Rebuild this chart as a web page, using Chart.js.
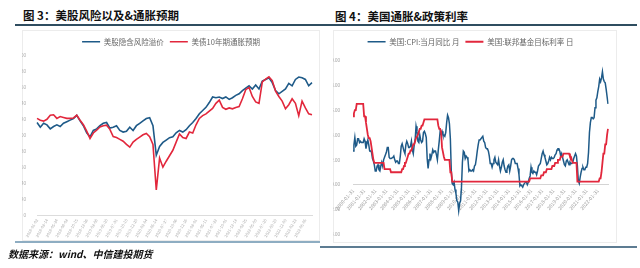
<!DOCTYPE html>
<html>
<head>
<meta charset="utf-8">
<script src="https://cdn.jsdelivr.net/npm/chart.js@4.4.0/dist/chart.umd.min.js"></script>
<style>
  body { margin:0; width:640px; height:268px; background:#fff; position:relative; overflow:hidden;
         font-family:"Noto Sans CJK SC", sans-serif; }
  .title { position:absolute; top:7px; font-size:11.5px; line-height:16px; font-weight:bold; color:#111; white-space:nowrap; }
  .rule { position:absolute; height:2px; background:#2f4d60; }
  .foot { position:absolute; height:1.5px; }
  .box { position:absolute; border:1px solid #ececec; box-sizing:border-box; }
  canvas { position:absolute; }
  .source { position:absolute; left:8px; top:247px; font-size:10px; line-height:13px; font-weight:bold; font-style:italic; color:#111; }
</style>
</head>
<body>
<div class="title" style="left:23px">图 3：美股风险以及&amp;通胀预期</div>
<div class="title" style="left:335px;top:8px">图 4：美国通胀&amp;政策利率</div>
<div class="rule" style="left:15px;top:24px;width:622px"></div>
<div class="box" style="left:22px;top:30px;width:298px;height:211px"></div>
<div class="box" style="left:333px;top:30px;width:284px;height:213px"></div>
<canvas id="left" width="298" height="212" style="left:22px;top:30px"></canvas>
<canvas id="right" width="284" height="212" style="left:333px;top:30px"></canvas>
<div class="foot" style="left:15px;top:241px;width:305px;background:#8eadc2"></div>
<div class="foot" style="left:320px;top:246px;width:317px;background:#5d7c92"></div>
<div class="source">数据来源：wind、中信建投期货</div>
<script>
var BLUE = '#1e5a88'
var RED = '#e2273c'

// 图3 美股隐含风险溢价 (左轴) / 美债10年期通胀预期 (右轴)
var stockERP = [116,110,115,113,108,111,113,111,115,117,
  119,121,125,118,112,103,98,106,108,112,
  115,116,109,110,112,106,104,105,110,106,
  112,115,118,121,122,112,75,86,91,94,
  97,98,103,106,104,107,112,116,121,127,
  131,135,141,148,147,148,146,148,145,147,
  150,152,156,159,162,158,163,158,168,170,
  172,166,156,152,155,158,165,162,170,173,
  172,170,162,166]
var breakeven = [2.12,2.08,2.06,2.10,2.19,2.20,2.12,2.16,2.14,2.12,
  2.12,2.13,2.19,2.08,1.98,1.84,1.68,1.80,1.86,1.93,
  1.96,1.97,1.88,1.72,1.70,1.66,1.62,1.55,1.49,1.60,
  1.66,1.71,1.76,1.79,1.72,1.55,0.55,1.25,1.05,1.18,
  1.30,1.42,1.60,1.78,1.70,1.68,1.82,1.80,1.98,2.12,
  2.18,2.22,2.28,2.34,2.45,2.52,2.36,2.32,2.35,2.33,
  2.36,2.38,2.55,2.75,2.80,2.60,2.48,2.45,2.92,2.98,
  3.03,2.95,2.72,2.60,2.50,2.33,2.42,2.55,2.45,2.18,
  2.50,2.35,2.22,2.20]
var stockTickLabels = ['2018-01-02','2018-03-14','2018-05-24','2018-08-03','2018-10-15','2018-12-26',
  '2019-03-08','2019-05-20','2019-07-31','2019-10-10','2019-12-20','2020-03-04','2020-05-14',
  '2020-07-27','2020-10-06','2020-12-16','2021-03-01','2021-05-11','2021-07-22','2021-10-01',
  '2021-12-13','2022-02-25','2022-05-09','2022-07-20','2022-09-29','2022-12-09','2023-02-23','2023-05-05']

// 图4 美国CPI当月同比 (月) / 联邦基金目标利率 (日), 2000-01 ~ 2022-12
var cpiYoY = [
  2.7,3.2,3.8,3.1,3.2,3.7,3.7,3.4,3.5,3.4,3.4,3.4,
  3.7,3.5,2.9,3.3,3.6,3.2,2.7,2.7,2.6,2.1,1.9,1.6,
  1.1,1.1,1.5,1.6,1.2,1.1,1.5,1.8,1.5,2.0,2.2,2.4,
  2.6,3.0,3.0,2.2,2.1,2.1,2.1,2.2,2.3,2.0,1.8,1.9,
  1.9,1.7,1.7,2.3,3.1,3.3,3.0,2.7,2.5,3.2,3.5,3.3,
  3.0,3.0,3.1,3.5,2.8,2.5,3.2,3.6,4.7,4.3,3.5,3.4,
  4.0,3.6,3.4,3.5,4.2,4.3,4.1,3.8,2.1,1.3,2.0,2.5,
  2.1,2.4,2.8,2.6,2.7,2.7,2.4,2.0,2.8,3.5,4.3,4.1,
  4.3,4.0,4.0,3.9,4.2,5.0,5.6,5.4,4.9,3.7,1.1,0.1,
  0.0,0.2,-0.4,-0.7,-1.3,-1.4,-2.1,-1.5,-1.3,-0.2,1.8,2.7,
  2.6,2.1,2.3,2.2,2.0,1.1,1.2,1.1,1.1,1.2,1.1,1.5,
  1.6,2.1,2.7,3.2,3.6,3.6,3.6,3.8,3.9,3.5,3.4,3.0,
  2.9,2.9,2.7,2.3,1.7,1.7,1.4,1.7,2.0,2.2,1.8,1.7,
  1.6,2.0,1.5,1.1,1.4,1.8,2.0,1.5,1.2,1.0,1.2,1.5,
  1.6,1.1,1.5,2.0,2.1,2.1,2.0,1.7,1.7,1.7,1.3,0.8,
  -0.1,0.0,-0.1,-0.2,0.0,0.1,0.2,0.2,0.0,0.2,0.5,0.7,
  1.4,1.0,0.9,1.1,1.0,1.0,0.8,1.1,1.5,1.6,1.7,2.1,
  2.5,2.7,2.4,2.2,1.9,1.6,1.7,1.9,2.2,2.0,2.2,2.1,
  2.1,2.2,2.4,2.5,2.8,2.9,2.9,2.7,2.3,2.5,2.2,1.9,
  1.6,1.5,1.9,2.0,1.8,1.6,1.8,1.7,1.7,1.8,2.1,2.3,
  2.5,2.3,1.5,0.3,0.1,0.6,1.0,1.3,1.4,1.2,1.2,1.4,
  1.4,1.7,2.6,4.2,5.0,5.4,5.4,5.3,5.4,6.2,6.8,7.0,
  7.5,7.9,8.5,8.3,8.6,9.1,8.5,8.3,8.2,7.7,7.1,6.5]
var fedRate = [
  5.5,5.75,6.0,6.0,6.5,6.5,6.5,6.5,6.5,6.5,6.5,6.5,
  5.5,5.5,5.0,4.5,4.0,3.75,3.75,3.5,3.0,2.5,2.0,1.75,
  1.75,1.75,1.75,1.75,1.75,1.75,1.75,1.75,1.75,1.75,1.25,1.25,
  1.25,1.25,1.25,1.25,1.25,1.0,1.0,1.0,1.0,1.0,1.0,1.0,
  1.0,1.0,1.0,1.0,1.0,1.25,1.25,1.5,1.75,1.75,2.0,2.25,
  2.5,2.5,2.75,2.75,3.0,3.25,3.25,3.5,3.75,3.75,4.0,4.25,
  4.5,4.5,4.75,4.75,5.0,5.25,5.25,5.25,5.25,5.25,5.25,5.25,
  5.25,5.25,5.25,5.25,5.25,5.25,5.25,5.25,4.75,4.5,4.5,4.25,
  3.0,3.0,2.25,2.0,2.0,2.0,2.0,2.0,2.0,1.0,1.0,0.25,
  0.25,0.25,0.25,0.25,0.25,0.25,0.25,0.25,0.25,0.25,0.25,0.25,
  0.25,0.25,0.25,0.25,0.25,0.25,0.25,0.25,0.25,0.25,0.25,0.25,
  0.25,0.25,0.25,0.25,0.25,0.25,0.25,0.25,0.25,0.25,0.25,0.25,
  0.25,0.25,0.25,0.25,0.25,0.25,0.25,0.25,0.25,0.25,0.25,0.25,
  0.25,0.25,0.25,0.25,0.25,0.25,0.25,0.25,0.25,0.25,0.25,0.25,
  0.25,0.25,0.25,0.25,0.25,0.25,0.25,0.25,0.25,0.25,0.25,0.25,
  0.25,0.25,0.25,0.25,0.25,0.25,0.25,0.25,0.25,0.25,0.25,0.5,
  0.5,0.5,0.5,0.5,0.5,0.5,0.5,0.5,0.5,0.5,0.5,0.75,
  0.75,0.75,1.0,1.0,1.0,1.25,1.25,1.25,1.25,1.25,1.25,1.5,
  1.5,1.5,1.75,1.75,1.75,2.0,2.0,2.0,2.25,2.25,2.25,2.5,
  2.5,2.5,2.5,2.5,2.5,2.5,2.25,2.25,2.0,1.75,1.75,1.75,
  1.75,1.75,0.25,0.25,0.25,0.25,0.25,0.25,0.25,0.25,0.25,0.25,
  0.25,0.25,0.25,0.25,0.25,0.25,0.25,0.25,0.25,0.25,0.25,0.25,
  0.25,0.25,0.5,0.5,1.0,1.75,2.5,2.5,3.25,3.25,4.0,4.5]
var cpiTickLabels = ['2000-01-31','2001-01-31','2002-01-31','2003-01-31','2004-01-31','2005-01-31',
  '2006-01-31','2007-01-31','2008-01-31','2009-01-31','2010-01-31','2011-01-31','2012-01-31',
  '2013-01-31','2014-01-31','2015-01-31','2016-01-31','2017-01-31','2018-01-31','2019-01-31',
  '2020-01-31','2021-01-31','2022-01-31']

Chart.defaults.font.family = "'Noto Sans CJK SC', 'Liberation Sans', sans-serif"
Chart.defaults.animation = false

// extra room under the legend, per chart
var legendGap = {
  id: 'legendGap',
  beforeInit: function(chart) {
    var fit = chart.legend.fit
    chart.legend.fit = function() {
      fit.bind(chart.legend)()
      this.height += chart.options.plugins.legendGap.extra
    }
  }
}

function legendOpts() {
  return {
    position: 'top',
    labels: {
      usePointStyle: true, pointStyle: 'line', pointStyleWidth: 18, boxHeight: 7,
      padding: 6, color: '#666', font: { size: 7.5 },
      sort: function(a, b) { return a.datasetIndex - b.datasetIndex }
    }
  }
}

var leftChart = new Chart(document.getElementById('left'), {
  type: 'line',
  data: {
    labels: stockERP.map(function(v, i) { return i }),
    datasets: [
      { label: '美股隐含风险溢价', data: stockERP, borderColor: BLUE, backgroundColor: BLUE,
        borderWidth: 1.6, pointRadius: 0, yAxisID: 'y', order: 1 },
      { label: '美债10年期通胀预期', data: breakeven, borderColor: RED, backgroundColor: RED,
        borderWidth: 1.6, pointRadius: 0, yAxisID: 'y1', order: 0 }
    ]
  },
  plugins: [legendGap],
  options: {
    responsive: false,
    layout: { padding: { top: 2, left: 0, right: 0, bottom: 0 } },
    plugins: { legend: legendOpts(), legendGap: { extra: 0 }, tooltip: { enabled: false } },
    scales: {
      x: {
        grid: { display: false, drawTicks: false },
        border: { color: '#dcdcdc' },
        ticks: { autoSkip: false, minRotation: 60, maxRotation: 60, padding: 3, color: '#a8a8a8', font: { size: 4 },
          callback: function(v, i) { return i % 3 === 0 ? stockTickLabels[i / 3] : '' } },
        afterFit: function(s) { s.height = 27 }
      },
      y: {
        min: 0, max: 200,
        grid: { display: false }, border: { display: false },
        ticks: { stepSize: 20, color: '#a8a8a8', font: { size: 4.5 }, padding: 3 },
        afterFit: function(s) { s.width = 15 }
      },
      y1: {
        position: 'right', min: 0, max: 3.5,
        grid: { display: false }, border: { display: false },
        ticks: { stepSize: 0.5, color: '#a8a8a8', font: { size: 4.5 }, padding: 3 },
        afterFit: function(s) { s.width = 8 }
      }
    }
  }
})

var rightChart = new Chart(document.getElementById('right'), {
  type: 'line',
  data: {
    labels: cpiYoY.map(function(v, i) { return i }),
    datasets: [
      { label: '美国:CPI:当月同比 月', data: cpiYoY, borderColor: BLUE, backgroundColor: BLUE,
        borderWidth: 1.5, pointRadius: 0, order: 1 },
      { label: '美国:联邦基金目标利率 日', data: fedRate, borderColor: RED, backgroundColor: RED,
        borderWidth: 1.8, pointRadius: 0, order: 0 }
    ]
  },
  plugins: [legendGap],
  options: {
    responsive: false,
    layout: { padding: { top: 2, left: 0, right: 9, bottom: 7 } },
    plugins: { legend: legendOpts(), legendGap: { extra: 5 }, tooltip: { enabled: false } },
    scales: {
      x: {
        position: { y: 0 },
        grid: { display: false, drawTicks: false },
        border: { color: '#d4d4d4' },
        ticks: { autoSkip: false, minRotation: 50, maxRotation: 50, padding: 3, color: '#a0a0a0', font: { size: 5 },
          callback: function(v, i) { return i % 12 === 0 ? cpiTickLabels[i / 12] : '' } }
      },
      y: {
        min: -4, max: 10,
        grid: { display: false }, border: { display: false },
        ticks: { stepSize: 2, color: '#a0a0a0', font: { size: 4.5 }, padding: 5,
          callback: function(v) { return v.toFixed(2) } },
        afterFit: function(s) { s.width = 20 }
      }
    }
  }
})
</script>
</body>
</html>
